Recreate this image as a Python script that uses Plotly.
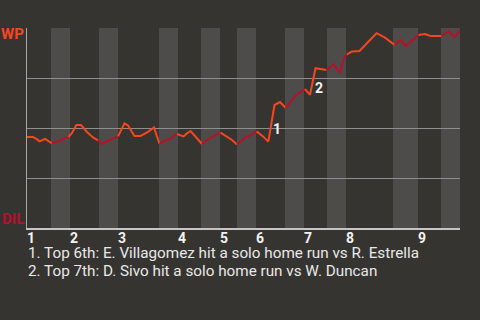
import plotly.graph_objects as go

# Length of each half-inning along the game-progress axis (top 1st, bottom 1st, ...)
half_lengths = [24, 19, 29, 19, 41, 19, 23, 19, 17, 19, 29, 19, 23, 19, 47, 25, 23, 19]
inning_labels = ["1", "2", "3", "4", "5", "6", "7", "8", "9"]

# Win probability for WP after each plate appearance
progress = [0, 6, 10, 12.5, 18, 25, 30, 36, 41.5, 45, 49.5, 54, 60, 66, 71, 74, 81, 87,
            91, 97.5, 101, 107.5, 113.5, 121, 127, 132.5, 137.5, 144, 150, 153.5, 156.5,
            160, 163.5, 168, 175, 180, 185, 190, 193.5, 198.5, 205, 210, 213.5, 218.5,
            223.5, 229.5, 236, 241.3, 247.5, 253, 258.7, 264.7, 269, 273, 278, 283,
            288.5, 294, 299.5, 306.7, 312.7, 317, 320, 325, 332.5, 349.5, 358, 367.7,
            373.2, 379, 386.7, 391.5, 398, 403.3, 414.5, 421.7, 427.5, 433]
wp_prob = [0.455, 0.455, 0.443, 0.433, 0.445, 0.423, 0.433, 0.443, 0.455, 0.475, 0.515,
           0.515, 0.48, 0.453, 0.438, 0.42, 0.435, 0.448, 0.458, 0.523, 0.513, 0.46, 0.46,
           0.48, 0.503, 0.42, 0.435, 0.448, 0.47, 0.465, 0.458, 0.473, 0.485, 0.46, 0.42,
           0.44, 0.455, 0.47, 0.477, 0.46, 0.44, 0.418, 0.433, 0.453, 0.465, 0.483, 0.458,
           0.432, 0.615, 0.63, 0.6, 0.64, 0.663, 0.679, 0.694, 0.666, 0.799, 0.793, 0.79,
           0.819, 0.775, 0.849, 0.868, 0.883, 0.885, 0.974, 0.952, 0.915, 0.94, 0.91,
           0.945, 0.965, 0.97, 0.96, 0.96, 0.984, 0.955, 0.987]

# Key events: index of the plate appearance that ends each one
event_index = [48, 56]
event_notes = [
    "1. Top 6th: E. Villagomez hit a solo home run vs R. Estrella",
    "2. Top 7th: D. Sivo hit a solo home run vs W. Duncan",
]

BG = "#363431"
BAND = "#4d4c4a"
AWAY = "#f4471f"
HOME = "#b8102a"
FONT = "Roboto"

edges = [0]
for n in half_lengths:
    edges.append(edges[-1] + n)


def half_of(x):
    for i in range(len(half_lengths)):
        if edges[i] <= x < edges[i + 1]:
            return i
    return len(half_lengths) - 1


fig = go.Figure()

# Segments coloured by the team at bat, grouped into runs
runs = []
for i in range(len(progress) - 1):
    mid = (progress[i] + progress[i + 1]) / 2
    colour = AWAY if half_of(mid) % 2 == 0 else HOME
    if runs and runs[-1][0] == colour:
        runs[-1][1].append(i + 1)
    else:
        runs.append([colour, [i, i + 1]])

for colour, idx in runs:
    fig.add_trace(go.Scatter(
        x=[progress[k] for k in idx], y=[wp_prob[k] for k in idx],
        mode="lines", line=dict(color=colour, width=2),
        hoverinfo="skip", showlegend=False,
    ))

shapes = []
# Bottom halves are shaded
for i in range(1, len(half_lengths), 2):
    shapes.append(dict(type="rect", xref="x", yref="y", x0=edges[i], x1=edges[i + 1],
                       y0=0, y1=1, fillcolor=BAND, line=dict(width=0), layer="below"))

annotations = []
for k, lab in enumerate(inning_labels):
    annotations.append(dict(x=edges[2 * k], y=0, xref="x", yref="y", text=f"<b>{lab}</b>",
                            showarrow=False, xanchor="left", yanchor="top", xshift=-2,
                            yshift=0, font=dict(family=FONT, size=14, color="#f2f2f2")))

for n, idx in enumerate(event_index):
    mx = (progress[idx - 1] + progress[idx]) / 2
    my = (wp_prob[idx - 1] + wp_prob[idx]) / 2
    annotations.append(dict(x=mx, y=my, xref="x", yref="y", text=f"<b>{n + 1}</b>",
                            showarrow=False, xanchor="left", yanchor="middle",
                            xshift=0, yshift=-6,
                            font=dict(family=FONT, size=14, color="#f2f2f2")))

annotations.append(dict(x=0, y=1, xref="paper", yref="paper", text="<b>WP</b>",
                        showarrow=False, xanchor="right", yanchor="middle", xshift=-1,
                        yshift=-6, font=dict(family=FONT, size=15, color=AWAY)))
annotations.append(dict(x=0, y=0, xref="paper", yref="paper", text="<b>DIL</b>",
                        showarrow=False, xanchor="right", yanchor="middle", xshift=-1,
                        yshift=9, font=dict(family=FONT, size=15, color=HOME)))

for n, note in enumerate(event_notes):
    annotations.append(dict(x=0, y=0, xref="paper", yref="paper", text=note,
                            showarrow=False, xanchor="left", yanchor="middle",
                            xshift=-1, yshift=-25 - 17.5 * n,
                            font=dict(family=FONT, size=15.25, color="#e8e8e8")))

fig.update_layout(
    width=480, height=320,
    margin=dict(l=27, r=20, t=28, b=92),
    paper_bgcolor=BG, plot_bgcolor=BG,
    shapes=shapes, annotations=annotations,
    xaxis=dict(range=[0, edges[-1]], showgrid=False, zeroline=False, showticklabels=False,
               showline=True, linecolor="#c4c4c4", linewidth=2, fixedrange=True),
    yaxis=dict(range=[0, 1], tickvals=[0.25, 0.5, 0.75, 1.0], showticklabels=False,
               showgrid=True, gridcolor="#8e8e8e", gridwidth=1, zeroline=False,
               showline=True, linecolor="#a8a8a8", linewidth=1, fixedrange=True),
)

fig.write_html("out.html")
